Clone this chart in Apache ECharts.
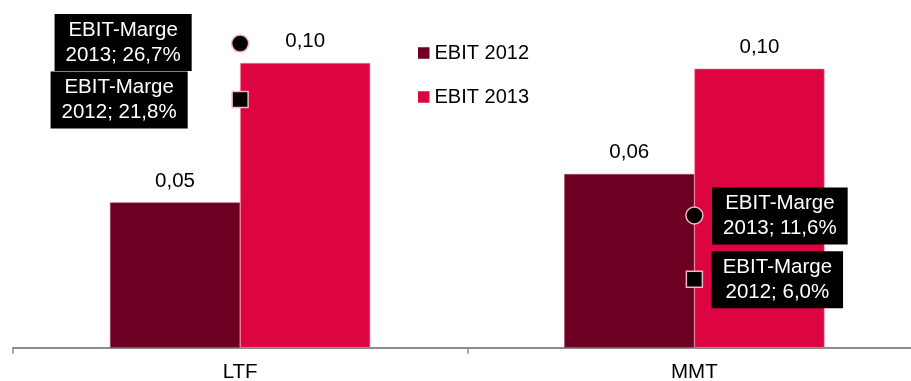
<!DOCTYPE html>
<html>
<head>
<meta charset="utf-8">
<script src="https://cdn.jsdelivr.net/npm/echarts@6/dist/echarts.min.js"></script>
<style>
  html, body { margin: 0; padding: 0; background: #ffffff; }
  #chart { width: 911px; height: 381px; }
</style>
</head>
<body>
<div id="chart"></div>
<script>
// Companies on the category axis
const categories = ['LTF', 'MMT'];

// EBIT (bars, left scale)
const ebit2012 = [0.051, 0.061];
const ebit2013 = [0.100, 0.098];

// EBIT margin in percent (markers, right scale)
const marge2013 = [26.7, 11.6];
const marge2012 = [21.8, 6.0];

const FONT = '"Liberation Sans", Arial, sans-serif';
const deNum = (v, d) => v.toFixed(d).replace('.', ',');

// Label boxes sit beside their markers: to the left for LTF, to the right for MMT
const margeLabelOffsets = {
  2013: [[-117, -1], [85.5, 0.5]],
  2012: [[-121, 0.5], [83, 0.5]]
};

function margeItems(values, year) {
  return values.map((v, i) => ({
    value: [categories[i], v],
    label: {
      offset: margeLabelOffsets[year][i],
      formatter: 'EBIT-Marge\n' + year + '; ' + deNum(v, 1) + '%'
    }
  }));
}

const margeLabel = {
  show: true,
  position: 'inside',
  color: '#ffffff',
  backgroundColor: '#000000',
  fontFamily: FONT,
  fontSize: 20.5,
  lineHeight: 25,
  padding: [4, 11, 3, 11],
  align: 'center',
  verticalAlign: 'middle'
};

const chart = echarts.init(document.getElementById('chart'), null, { renderer: 'canvas' });

chart.setOption({
  animation: false,
  backgroundColor: '#ffffff',
  textStyle: { fontFamily: FONT },
  // the plot area runs a little past the right edge of the canvas
  grid: { left: 13, width: 908.5, top: 6, bottom: 33.3, containLabel: false, outerBoundsMode: 'none' },
  legend: {
    data: ['EBIT 2012', 'EBIT 2013'],
    orient: 'vertical',
    left: 418,
    top: 43,
    padding: 0,
    icon: 'rect',
    itemWidth: 11.5,
    itemHeight: 11.5,
    itemGap: 24,
    itemStyle: { borderWidth: 0 },
    textStyle: { fontFamily: FONT, fontSize: 20, color: '#000000' }
  },
  xAxis: {
    type: 'category',
    data: categories,
    axisLine: { lineStyle: { color: '#8c8c8c', width: 2 } },
    axisTick: { show: true, length: 6, lineStyle: { color: '#8c8c8c', width: 1.5 } },
    axisLabel: { color: '#000000', fontFamily: FONT, fontSize: 20.5, margin: 14 },
    splitLine: { show: false }
  },
  yAxis: [
    { type: 'value', min: 0, max: 0.12, show: false, splitLine: { show: false } },
    { type: 'value', min: 0, max: 30, show: false, splitLine: { show: false } }
  ],
  series: [
    {
      name: 'EBIT 2012',
      type: 'bar',
      data: ebit2012,
      barGap: '0%',
      barCategoryGap: '42.7%',
      itemStyle: { color: '#6c0022', borderColor: '#a8506a', borderWidth: 0.6 },
      label: {
        show: true, position: 'top', distance: 11,
        color: '#000000', fontFamily: FONT, fontSize: 20.5,
        formatter: p => deNum(p.value, 2)
      },
      z: 2
    },
    {
      name: 'EBIT 2013',
      type: 'bar',
      data: ebit2013,
      itemStyle: { color: '#dc0441', borderColor: '#f08aa4', borderWidth: 0.6 },
      label: {
        show: true, position: 'top', distance: 11,
        color: '#000000', fontFamily: FONT, fontSize: 20.5,
        formatter: p => deNum(p.value, 2)
      },
      z: 2
    },
    {
      name: 'EBIT-Marge 2013',
      type: 'scatter',
      yAxisIndex: 1,
      symbol: 'circle',
      symbolSize: 17,
      itemStyle: { color: '#000000', borderColor: '#f6b3c3', borderWidth: 1.5, opacity: 1 },
      label: margeLabel,
      data: margeItems(marge2013, 2013),
      z: 5
    },
    {
      name: 'EBIT-Marge 2012',
      type: 'scatter',
      yAxisIndex: 1,
      symbol: 'rect',
      symbolSize: 16,
      itemStyle: { color: '#000000', borderColor: '#f6b3c3', borderWidth: 1.5, opacity: 1 },
      label: margeLabel,
      data: margeItems(marge2012, 2012),
      z: 5
    }
  ]
});
</script>
</body>
</html>
